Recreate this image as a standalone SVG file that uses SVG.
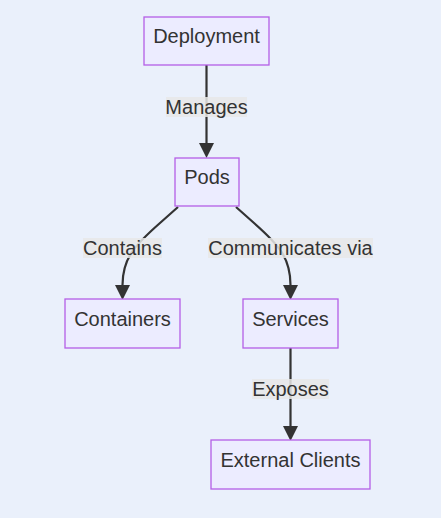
<svg xmlns="http://www.w3.org/2000/svg" width="441" height="518" viewBox="0 0 441 518">
<style>
.node rect{fill:#ECECFF;stroke:#b45fe6;stroke-width:1.3}
.node text{font-family:"Liberation Sans",Arial,sans-serif;font-size:20px;fill:#333;text-anchor:middle}
.edge{fill:none;stroke:#333;stroke-width:2.2}
.lbl rect{fill:#e8e8e8;fill-opacity:0.85}
.lbl text{font-family:"Liberation Sans",Arial,sans-serif;font-size:20px;fill:#333;text-anchor:middle}
</style>
<defs>
<marker id="arr" markerUnits="userSpaceOnUse" markerWidth="16" markerHeight="16" viewBox="0 0 16 16" refX="0" refY="7.5" orient="auto">
<path d="M0,0 L15,7.5 L0,15 z" fill="#333"/>
</marker>
</defs>
<rect width="441" height="518" fill="#eaf0fb"/>
<g id="connectors">
<path class="edge" d="M206.5,65 L206.5,143" marker-end="url(#arr)"/>
<path class="edge" d="M178,207 L160,223 C135,245 122.5,258 122.5,285" marker-end="url(#arr)"/>
<path class="edge" d="M236,207 L254,223 C279,245 290.5,258 290.5,285" marker-end="url(#arr)"/>
<path class="edge" d="M290.5,348 L290.5,426" marker-end="url(#arr)"/>
<g class="lbl"><rect x="166" y="97" width="81" height="20"/><text x="206.5" y="114">Manages</text></g>
<g class="lbl"><rect x="83" y="238" width="79" height="20"/><text x="122.5" y="255">Contains</text></g>
<g class="lbl"><rect x="208" y="238" width="165" height="20"/><text x="290.5" y="255">Communicates via</text></g>
<g class="lbl"><rect x="252" y="379" width="77" height="20"/><text x="290.5" y="396">Exposes</text></g>
</g>
<g id="deployment" class="node"><rect x="144" y="17" width="125" height="48"/><text x="206.5" y="43">Deployment</text></g>
<g id="pods" class="node"><rect x="175" y="158" width="64" height="48"/><text x="207" y="184">Pods</text></g>
<g id="containers" class="node"><rect x="65" y="299" width="115" height="49"/><text x="122.5" y="326">Containers</text></g>
<g id="services" class="node"><rect x="243" y="299" width="95" height="49"/><text x="290.5" y="326">Services</text></g>
<g id="external-clients" class="node"><rect x="211" y="440" width="159" height="49"/><text x="290.5" y="467">External Clients</text></g>
</svg>
